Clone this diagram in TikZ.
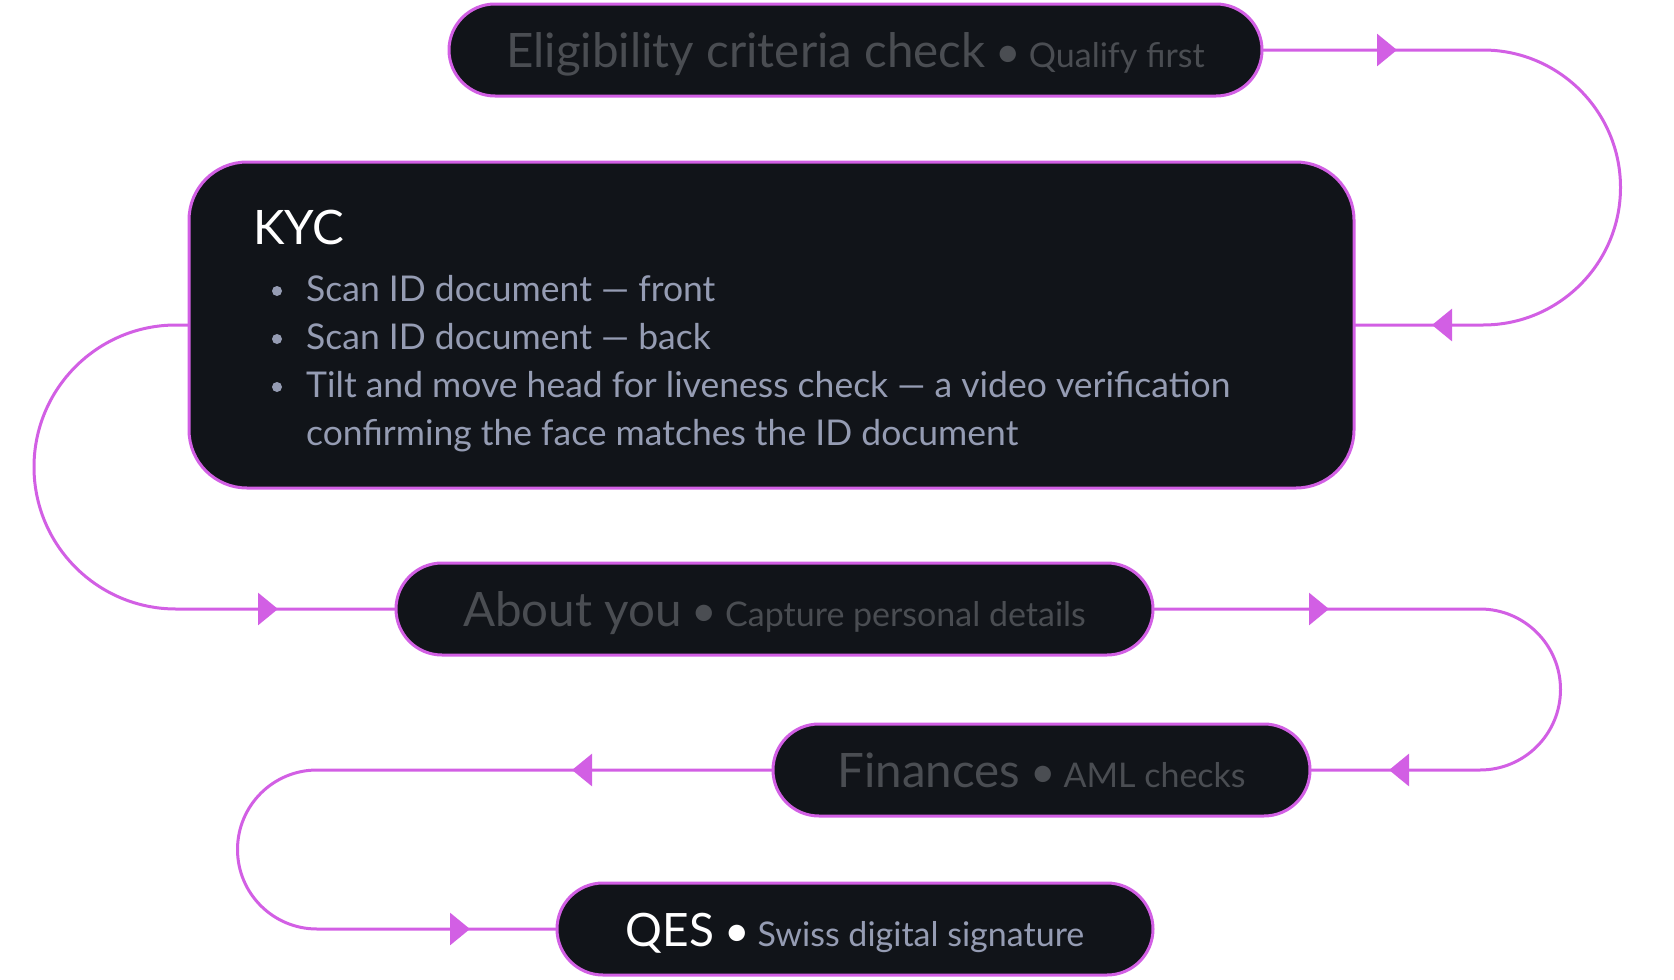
\documentclass[tikz,border=0pt]{standalone}
\usepackage{fontspec}
\setmainfont{Lato}
\usetikzlibrary{arrows.meta}
\definecolor{bx}{HTML}{111419}
\definecolor{mg}{HTML}{D25FE4}
\definecolor{fade}{HTML}{4A4D52}
\definecolor{soft}{HTML}{959CB3}
\newcommand{\ttl}{\fontsize{47.5}{52}\selectfont}
\newcommand{\sbt}{\fontsize{34}{38}\selectfont}
\newcommand{\blt}{\fontsize{35.5}{38}\selectfont}
\newcommand{\dotsep}{\hspace{10pt}{\fontsize{44}{44}\selectfont •}\hspace{8pt}}
\begin{document}
\begin{tikzpicture}[x=1pt,y=-1pt,
  pill/.style={draw=mg, fill=bx, line width=3pt, rounded corners=46pt, minimum height=92pt, inner sep=0pt},
  conn/.style={draw=mg, line width=3pt},
  tipst/.style={draw=mg, fill=mg, line width=3pt, -{Triangle[length=20pt,width=32pt]}}]
\useasboundingbox (0,0) rectangle (1674,980);
% coordinates for box centres
\coordinate (ctop) at (855.5,50);
\coordinate (ckyc) at (771.5,325);
\coordinate (cab) at (774.5,609);
\coordinate (cfin) at (1041.5,770);
\coordinate (cqes) at (855,929);
% boxes (invisible, for anchors)
\path (ctop) node[minimum width=813pt, minimum height=92pt, inner sep=0pt] (top) {};
\path (ckyc) node[minimum width=1165pt, minimum height=326pt, inner sep=0pt] (kyc) {};
\path (cab) node[minimum width=757pt, minimum height=92pt, inner sep=0pt] (about) {};
\path (cfin) node[minimum width=537pt, minimum height=92pt, inner sep=0pt] (fin) {};
\path (cqes) node[minimum width=596pt, minimum height=92pt, inner sep=0pt] (qes) {};
% connectors
\draw[conn] (top.east) -- (1483,50) arc[start angle=-90,end angle=90,radius=137.5] -- (kyc.east);
\draw[conn] (kyc.west) -- (176,325) arc[start angle=270,end angle=90,radius=142] -- (about.west);
\draw[conn] (about.east) -- (1480,609) arc[start angle=-90,end angle=90,radius=80.5] -- (fin.east);
\draw[conn] (fin.west) -- (317,770) arc[start angle=270,end angle=90,radius=79.5] -- (qes.west);
% arrow tips on connectors
\coordinate (a1s) at (1377,50);  \coordinate (a1) at (1397,50);
\coordinate (a2s) at (1452,325); \coordinate (a2) at (1432,325);
\coordinate (a3s) at (258,609);  \coordinate (a3) at (278,609);
\coordinate (a4s) at (1309,609); \coordinate (a4) at (1329,609);
\coordinate (a5s) at (1409,770); \coordinate (a5) at (1389,770);
\coordinate (a6s) at (592,770);  \coordinate (a6) at (572,770);
\coordinate (a7s) at (450,929);  \coordinate (a7) at (470,929);
\foreach \s/\t in {a1s/a1,a2s/a2,a3s/a3,a4s/a4,a5s/a5,a6s/a6,a7s/a7}
  \draw[tipst] (\s) -- (\t);
% visible boxes
\node[pill, minimum width=813pt] (topbox) at (ctop) {};
\node[pill, minimum width=1165pt, minimum height=326pt, rounded corners=58pt] (kycbox) at (ckyc) {};
\node[pill, minimum width=757pt] (aboutbox) at (cab) {};
\node[pill, minimum width=537pt] (finbox) at (cfin) {};
\node[pill, minimum width=596pt] (qesbox) at (cqes) {};
% texts
\node[anchor=base, text=fade, inner sep=0pt] (toptxt) at (855.5,67) {\ttl Eligibility criteria check\dotsep\sbt Qualify first};
\node[anchor=base, text=fade, inner sep=0pt] (abtxt) at (774.5,626) {\ttl About you\dotsep\sbt Capture personal details};
\node[anchor=base, text=fade, inner sep=0pt] (fintxt) at (1041.5,787) {\ttl Finances\dotsep\sbt AML checks};
\node[anchor=base, inner sep=0pt] (qestxt) at (855,946) {\color{white}\fontsize{46}{50}\selectfont QES\dotsep\sbt\color{soft}Swiss digital signature};
% KYC content
\node[anchor=base west, text=white, inner sep=0pt] (kyct) at (253,244) {\ttl KYC};
\node[anchor=base west, text=soft, inner sep=0pt] (k1) at (306,301) {\blt Scan ID document — front};
\node[anchor=base west, text=soft, inner sep=0pt] (k2) at (306,349) {\blt Scan ID document — back};
\node[anchor=base west, text=soft, inner sep=0pt] (k3) at (306,397) {\blt Tilt and move head for liveness check — a video verification};
\node[anchor=base west, text=soft, inner sep=0pt] (k4) at (306,445) {\blt confirming the face matches the ID document};
\foreach \y/\n in {291/b1,339/b2,387/b3}
  \fill[soft] (277,\y) circle[radius=5] coordinate (\n);
\end{tikzpicture}
\end{document}
